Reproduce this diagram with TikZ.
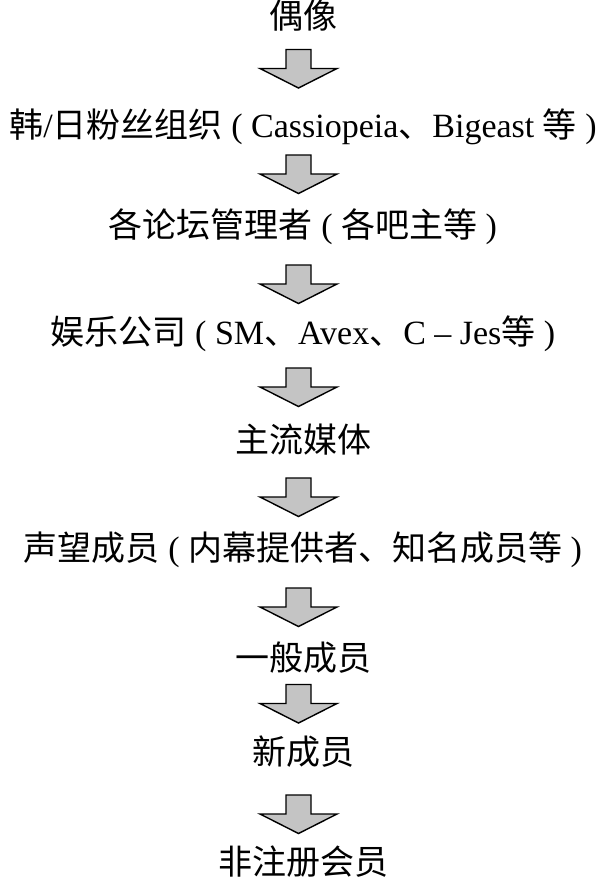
\documentclass[tikz,border=0pt]{standalone}
\usepackage{fontspec}
\setmainfont{Liberation Serif}
\newfontfamily\cjk{Noto Sans CJK SC}
\definecolor{arrowfill}{RGB}{196,196,196}
\tikzset{
  lbl/.style={font=\fontsize{34}{40}\selectfont, inner sep=0pt, anchor=center, text height=0.8em, text depth=0.05em},
  blockarrow/.pic={\draw[line width=1.4pt, fill=arrowfill, line join=miter]
     (-12.5,0) -- (12.5,0) -- (12.5,19) -- (38.5,19) -- (0,38.5) -- (-38.5,19) -- (-12.5,19) -- cycle;}
}
\begin{document}
\begin{tikzpicture}[x=1pt,y=-1pt]
\useasboundingbox (0,0) rectangle (606,884);
\node[lbl] (n1) at (303,25) {\cjk 偶像};
\node[lbl] (n2) at (303,134) {{\cjk 韩}/{\cjk 日粉丝组织} ( Cassiopeia{\cjk 、}Bigeast {\cjk 等} )};
\node[lbl] (n3) at (303,234) {{\cjk 各论坛管理者} ( {\cjk 各吧主等} )};
\node[lbl] (n4) at (303,341) {{\cjk 娱乐公司} ( SM{\cjk 、}Avex{\cjk 、}C – Jes{\cjk 等} )};
\node[lbl] (n5) at (303,449) {\cjk 主流媒体};
\node[lbl] (n6) at (303,557) {{\cjk 声望成员} ( {\cjk 内幕提供者、知名成员等} )};
\node[lbl] (n7) at (303,667) {\cjk 一般成员};
\node[lbl] (n8) at (303,761) {\cjk 新成员};
\node[lbl] (n9) at (303,871) {\cjk 非注册会员};
\pic at (298.5,49.5) {blockarrow};
\pic at (298.5,155) {blockarrow};
\pic at (298.5,265) {blockarrow};
\pic at (298.5,368) {blockarrow};
\pic at (298.5,478) {blockarrow};
\pic at (298.5,588) {blockarrow};
\pic at (298.5,684.5) {blockarrow};
\pic at (298.5,795) {blockarrow};
\end{tikzpicture}
\end{document}
